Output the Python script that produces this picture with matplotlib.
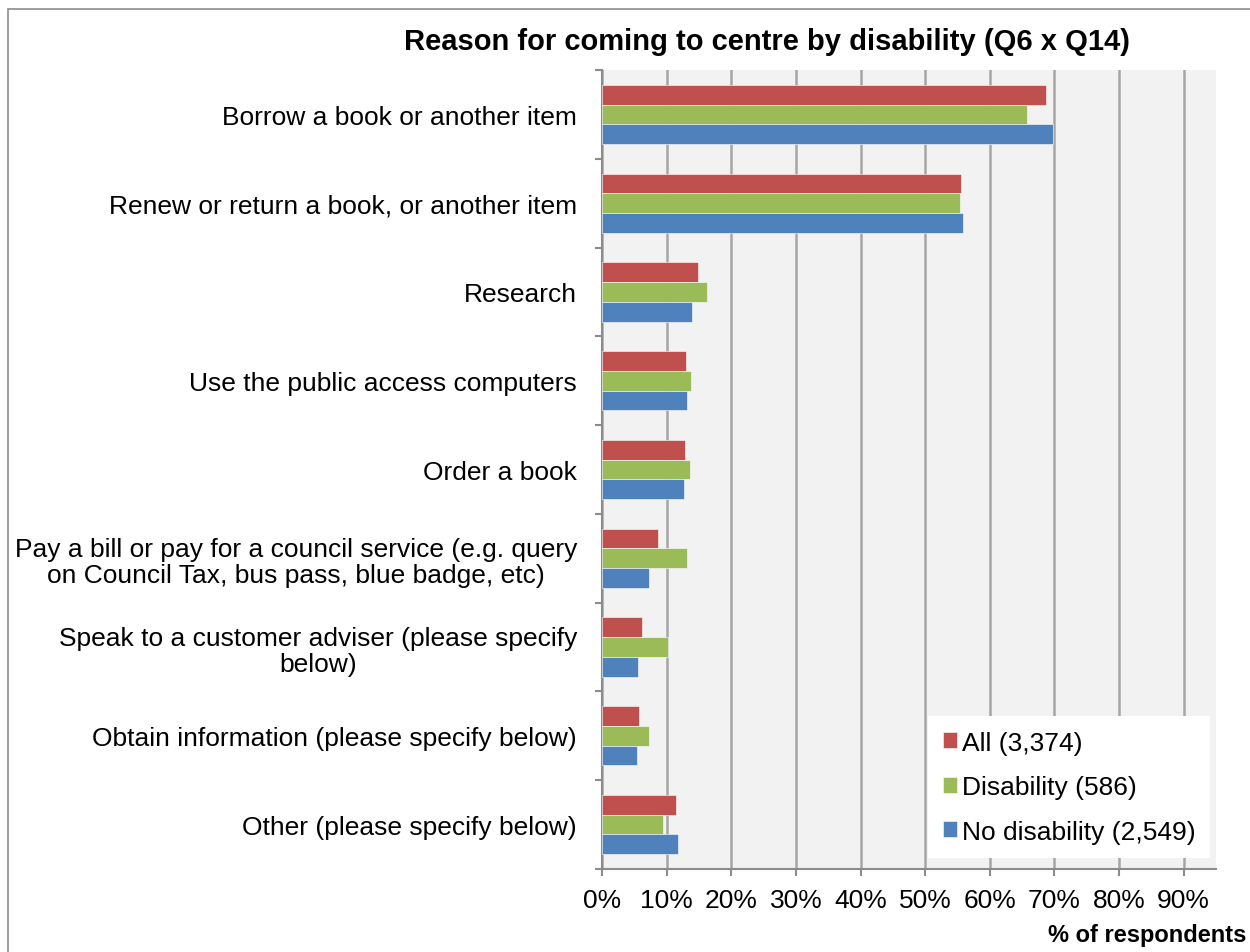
"""Reasons for coming to the centre, split by disability (Q6 x Q14)."""

import matplotlib
matplotlib.use("Agg")
import matplotlib.pyplot as plt
import matplotlib.ticker as ticker
from matplotlib.patches import Rectangle

categories = [
    "Borrow a book or another item",
    "Renew or return a book, or another item",
    "Research",
    "Use the public access computers",
    "Order a book",
    "Pay a bill or pay for a council service (e.g. query\non Council Tax, bus pass, blue badge, etc)",
    "Speak to a customer adviser (please specify\nbelow)",
    "Obtain information (please specify below)",
    "Other (please specify below)",
]

all_resp = [0.687, 0.555, 0.149, 0.130, 0.129, 0.087, 0.062, 0.057, 0.114]
disability = [0.657, 0.554, 0.162, 0.138, 0.136, 0.132, 0.102, 0.073, 0.095]
no_disability = [0.698, 0.559, 0.139, 0.131, 0.127, 0.073, 0.055, 0.054, 0.118]

series_labels = ["All (3,374)", "Disability (586)", "No disability (2,549)"]
series_colors = ["#C0504D", "#9BBB59", "#4F81BD"]

x_ticks = [i / 10 for i in range(10)]

plt.rcParams["font.family"] = ["Liberation Sans", "DejaVu Sans"]

fig = plt.figure(figsize=(12.5, 9.53), dpi=100)
ax = fig.add_axes([0.4816, 0.0871, 0.4912, 0.8384])
ax.set_facecolor("#F2F2F2")

# outer chart frame
fig.patches.append(Rectangle((8 / 1250, -0.05), 1.2, 1 - 10 / 953 + 0.05,
                             transform=fig.transFigure, fill=False,
                             edgecolor="#8C8C8C", linewidth=1.2))

h = 0.222
ys = list(range(len(categories)))
for k, (vals, lab, col) in enumerate(zip([all_resp, disability, no_disability],
                                         series_labels, series_colors)):
    offs = (k - 1) * h
    ax.barh([y + offs for y in ys], vals, height=h, color=col, label=lab,
            edgecolor="white", linewidth=0.4, zorder=3)

ax.set_ylim(len(categories) - 0.5, -0.5)
ax.set_xlim(0, 0.95)

ax.set_yticks(ys)
ax.set_yticklabels(categories, fontsize=19, ha="right",
                   multialignment="center", linespacing=1.12)
ax.tick_params(axis="y", which="major", length=0, pad=18)
ax.yaxis.set_minor_locator(ticker.FixedLocator([y - 0.5 for y in range(len(categories) + 1)]))
ax.tick_params(axis="y", which="minor", length=5, width=1.5, color="#8C8C8C", direction="out")

ax.set_xticks(x_ticks)
ax.xaxis.set_major_formatter(ticker.PercentFormatter(1.0, decimals=0))
ax.tick_params(axis="x", length=5, width=1.5, color="#8C8C8C", direction="out",
               labelsize=19, pad=9)

ax.grid(axis="x", color="#A6A6A6", linewidth=1.8, zorder=0)
ax.set_axisbelow(True)
for side in ("top", "right"):
    ax.spines[side].set_visible(False)
for side in ("left", "bottom"):
    ax.spines[side].set_color("#8C8C8C")
    ax.spines[side].set_linewidth(1.5)

fig.text(0.6136, 0.956, "Reason for coming to centre by disability (Q6 x Q14)",
         ha="center", va="center", fontsize=21, fontweight="bold")
fig.text(0.997, 0.018, "% of respondents", ha="right", va="center",
         fontsize=17, fontweight="bold")

leg = ax.legend(loc="upper left", bbox_to_anchor=(928 / 1250, 1 - 717 / 953),
                bbox_transform=fig.transFigure, fontsize=19, frameon=True,
                fancybox=False, framealpha=1, edgecolor="white",
                handlelength=0.55, handleheight=0.55, handletextpad=0.2,
                labelspacing=0.78, borderpad=0.55, borderaxespad=0)
leg.get_frame().set_linewidth(0)

fig.savefig("out.png", dpi=100)
